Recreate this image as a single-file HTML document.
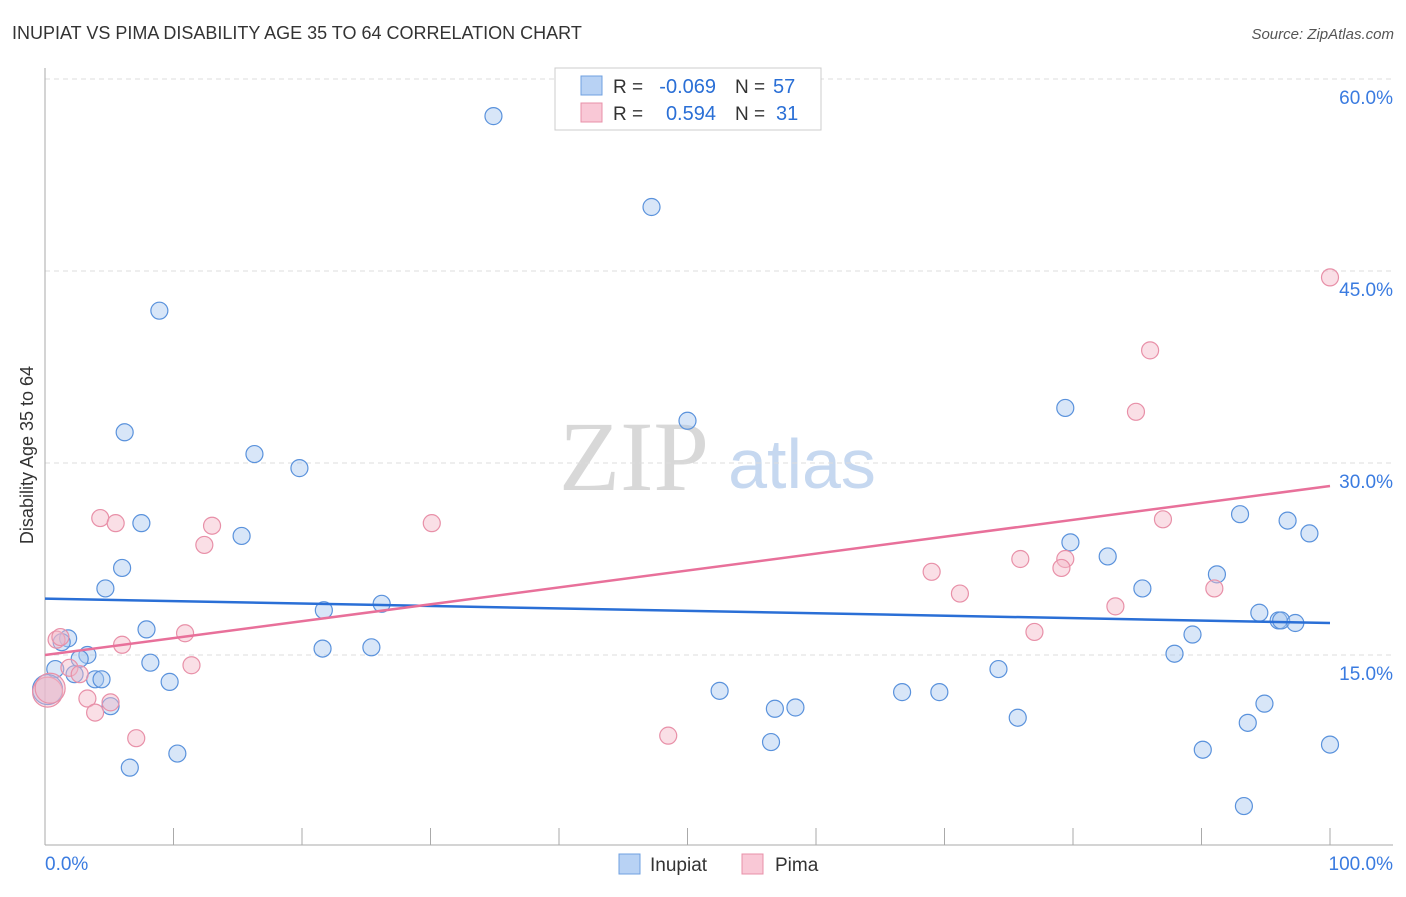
<!DOCTYPE html>
<html><head><meta charset="utf-8"><style>
body{margin:0;background:#fff;font-family:"Liberation Sans",sans-serif}
svg text{font-family:"Liberation Sans",sans-serif}
</style></head><body>
<svg id="chart" width="1406" height="892">
<text x="12" y="39" font-size="18" fill="#333">INUPIAT VS PIMA DISABILITY AGE 35 TO 64 CORRELATION CHART</text>
<text x="1394" y="39" font-size="15" fill="#555" font-style="italic" text-anchor="end">Source: ZipAtlas.com</text>
<text x="634" y="490" font-size="100" fill="#d8d8d8" style="font-family:'Liberation Serif',serif" text-anchor="middle">ZIP</text>
<text x="802" y="488" font-size="70" fill="#c6d8f0" text-anchor="middle">atlas</text>
<text transform="translate(33,455) rotate(-90)" font-size="18" fill="#333" text-anchor="middle">Disability Age 35 to 64</text>
<g id="grid"></g><g id="axes"></g><g id="pts"></g><g id="lines"></g>
<g>
<rect x="555" y="68" width="266" height="62" fill="#fff" stroke="#ccc"/>
<rect x="581" y="76" width="21" height="19" fill="#b8d2f4" stroke="#6fa0e0"/>
<rect x="581" y="103" width="21" height="19" fill="#f9c8d6" stroke="#e890a8"/>
<text x="613" y="93" font-size="19" fill="#333">R =</text>
<text x="716" y="93" font-size="20" fill="#2a6fd6" text-anchor="end">-0.069</text>
<text x="735" y="93" font-size="19" fill="#333">N =</text>
<text x="773" y="93" font-size="20" fill="#2a6fd6">57</text>
<text x="613" y="120" font-size="19" fill="#333">R =</text>
<text x="716" y="120" font-size="20" fill="#2a6fd6" text-anchor="end">0.594</text>
<text x="735" y="120" font-size="19" fill="#333">N =</text>
<text x="776" y="120" font-size="20" fill="#2a6fd6">31</text>
</g>
<g>
<rect x="619" y="854" width="21" height="20" fill="#b8d2f4" stroke="#6fa0e0"/>
<text x="650" y="871" font-size="19" fill="#333">Inupiat</text>
<rect x="742" y="854" width="21" height="20" fill="#f9c8d6" stroke="#e890a8"/>
<text x="775" y="871" font-size="19" fill="#333">Pima</text>
</g>
</svg>
<script>
const yTicks=[15,30,45,60];
const blueX=[34.9,47.2,8.9,6.2,16.3,19.8,50.0,79.4,7.5,15.3,6.0,4.7,26.2,21.7,7.9,1.8,1.3,21.6,25.4,3.3,2.7,8.2,0.8,2.3,3.9,4.4,9.7,5.1,10.3,6.6,0.2,93.0,96.7,98.4,79.8,82.7,91.2,85.4,94.5,96.0,96.2,97.3,89.3,87.9,74.2,52.5,66.7,69.6,94.9,56.8,58.4,75.7,93.6,56.5,90.1,100,93.3];
const blueY=[57.1,50.0,41.9,32.4,30.7,29.6,33.3,34.3,25.3,24.3,21.8,20.2,19.0,18.5,17.0,16.3,16.0,15.5,15.6,15.0,14.7,14.4,13.9,13.5,13.1,13.1,12.9,11.0,7.3,6.2,12.3,26.0,25.5,24.5,23.8,22.7,21.3,20.2,18.3,17.7,17.7,17.5,16.6,15.1,13.9,12.2,12.1,12.1,11.2,10.8,10.9,10.1,9.7,8.2,7.6,8.0,3.2];
const pinkX=[100,86.0,84.9,87.0,30.1,4.3,5.5,13.0,12.4,75.9,79.4,79.1,69.0,71.2,91.0,83.3,77.0,10.9,6.0,0.9,1.2,11.4,1.9,2.7,3.3,5.1,3.9,7.1,48.5,0.2,0.4];
const pinkY=[44.5,38.8,34.0,25.6,25.3,25.7,25.3,25.1,23.6,22.5,22.5,21.8,21.5,19.8,20.2,18.8,16.8,16.7,15.8,16.2,16.4,14.2,14.0,13.5,11.6,11.3,10.5,8.5,8.7,12.1,12.4];
const blueLine=[19.4,17.5];
const pinkLine=[15.0,28.2];
const sx=v=>45+v*12.85, sy=v=>847-v*12.8;
const NS='http://www.w3.org/2000/svg';
function mk(t,a,p){const e=document.createElementNS(NS,t);for(const k in a)e.setAttribute(k,a[k]);p.appendChild(e);return e;}
const grid=document.getElementById('grid'),axes=document.getElementById('axes'),pts=document.getElementById('pts'),lines=document.getElementById('lines');
yTicks.forEach(t=>{const l=mk('line',{x1:45,x2:1393,y1:sy(t),y2:sy(t),stroke:'#ddd','stroke-dasharray':'5,4'},grid);


const tx=mk('text',{x:1393,y:sy(t)+25,'font-size':19,fill:'#3a7be0','text-anchor':'end'},grid);tx.textContent=t.toFixed(1)+'%';

});
mk('line',{x1:45,x2:45,y1:68,y2:845,stroke:'#aaa'},axes);
const xa=mk('line',{x1:45,x2:1393,y1:845,y2:845,stroke:'#aaa'},axes);


for(let i=0;i<=10;i++){mk('line',{x1:sx(i*10),x2:sx(i*10),y1:828,y2:845,stroke:'#aaa'},axes);}
const x0=mk('text',{x:45,y:870,'font-size':19,fill:'#3a7be0'},axes);x0.textContent='0.0%';


const x1=mk('text',{x:1393,y:870,'font-size':19,fill:'#3a7be0','text-anchor':'end'},axes);x1.textContent='100.0%';


function draw(X,Y,fill,stroke,name){X.forEach((x,i)=>{const r=(x<0.5)?15:8.5;const c=mk('circle',{cx:sx(x),cy:sy(Y[i]),r:r,fill:fill,'fill-opacity':0.45,stroke:stroke,'stroke-width':1.2},pts);

});}
draw(blueX,blueY,'#a8c8f0','#5a92dc','inupiat-point');
draw(pinkX,pinkY,'#f4b8c8','#e890a8','pima-point');
const bl=mk('line',{x1:sx(0),y1:sy(blueLine[0]),x2:sx(100),y2:sy(blueLine[1]),stroke:'#2a6fd6','stroke-width':2.5},lines);


const pl=mk('line',{x1:sx(0),y1:sy(pinkLine[0]),x2:sx(100),y2:sy(pinkLine[1]),stroke:'#e8709a','stroke-width':2.5},lines);


</script>
</body></html>
